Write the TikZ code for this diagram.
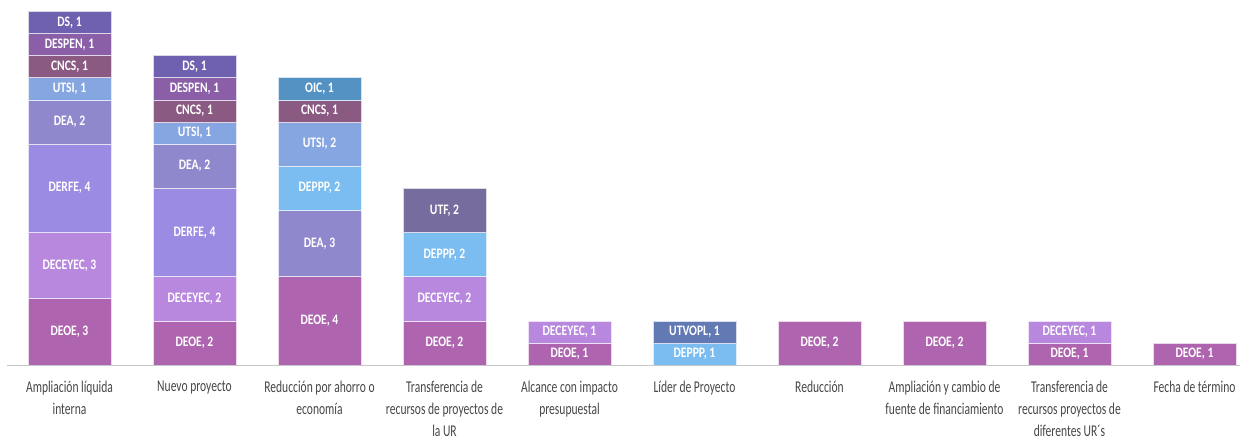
\documentclass[tikz,border=0pt]{standalone}
\usepackage{fontspec}
\newfontfamily\segfont[FakeStretch=0.8]{Carlito Bold}
\newfontfamily\catfont[FakeStretch=0.7]{Carlito}
\definecolor{cDS}{RGB}{112,96,176}
\definecolor{cDESPEN}{RGB}{138,95,168}
\definecolor{cCNCS}{RGB}{138,90,130}
\definecolor{cUTSI}{RGB}{134,166,226}
\definecolor{cDEA}{RGB}{144,136,204}
\definecolor{cDERFE}{RGB}{155,139,226}
\definecolor{cDECEYEC}{RGB}{184,135,222}
\definecolor{cDEOE}{RGB}{174,100,174}
\definecolor{cOIC}{RGB}{85,146,196}
\definecolor{cDEPPP}{RGB}{123,189,240}
\definecolor{cUTF}{RGB}{118,108,158}
\definecolor{cUTVOPL}{RGB}{98,121,180}
\definecolor{labgray}{RGB}{70,70,70}
\begin{document}
\begin{tikzpicture}[x=1pt,y=-1pt,
  seg/.style={fill=#1, draw=white!75!#1, line width=0.5pt, outer sep=0pt, inner sep=0pt,
    minimum width=83pt, text=white, font=\segfont\fontsize{14.5}{14.5}\selectfont},
  h/.style={minimum height=#1*22.1pt},
  first/.style={anchor=south west},
  up/.style={anchor=south},
  cat/.style={anchor=north, align=center, inner sep=0pt, text=labgray,
    font=\catfont\fontsize{16.5}{22}\selectfont}]
\useasboundingbox (0,0) rectangle (1245,440);
% Bar 1
\node[seg=cDEOE,h=3,first] (a1) at (28,365) {DEOE, 3};
\node[seg=cDECEYEC,h=3,up] (a2) at (a1.north) {DECEYEC, 3};
\node[seg=cDERFE,h=4,up] (a3) at (a2.north) {DERFE, 4};
\node[seg=cDEA,h=2,up] (a4) at (a3.north) {DEA, 2};
\node[seg=cUTSI,h=1,up] (a5) at (a4.north) {UTSI, 1};
\node[seg=cCNCS,h=1,up] (a6) at (a5.north) {CNCS, 1};
\node[seg=cDESPEN,h=1,up] (a7) at (a6.north) {DESPEN, 1};
\node[seg=cDS,h=1,up] (a8) at (a7.north) {DS, 1};
% Bar 2
\node[seg=cDEOE,h=2,first] (b1) at (153,365) {DEOE, 2};
\node[seg=cDECEYEC,h=2,up] (b2) at (b1.north) {DECEYEC, 2};
\node[seg=cDERFE,h=4,up] (b3) at (b2.north) {DERFE, 4};
\node[seg=cDEA,h=2,up] (b4) at (b3.north) {DEA, 2};
\node[seg=cUTSI,h=1,up] (b5) at (b4.north) {UTSI, 1};
\node[seg=cCNCS,h=1,up] (b6) at (b5.north) {CNCS, 1};
\node[seg=cDESPEN,h=1,up] (b7) at (b6.north) {DESPEN, 1};
\node[seg=cDS,h=1,up] (b8) at (b7.north) {DS, 1};
% Bar 3
\node[seg=cDEOE,h=4,first] (c1) at (278,365) {DEOE, 4};
\node[seg=cDEA,h=3,up] (c2) at (c1.north) {DEA, 3};
\node[seg=cDEPPP,h=2,up] (c3) at (c2.north) {DEPPP, 2};
\node[seg=cUTSI,h=2,up] (c4) at (c3.north) {UTSI, 2};
\node[seg=cCNCS,h=1,up] (c5) at (c4.north) {CNCS, 1};
\node[seg=cOIC,h=1,up] (c6) at (c5.north) {OIC, 1};
% Bar 4
\node[seg=cDEOE,h=2,first] (d1) at (403,365) {DEOE, 2};
\node[seg=cDECEYEC,h=2,up] (d2) at (d1.north) {DECEYEC, 2};
\node[seg=cDEPPP,h=2,up] (d3) at (d2.north) {DEPPP, 2};
\node[seg=cUTF,h=2,up] (d4) at (d3.north) {UTF, 2};
% Bar 5
\node[seg=cDEOE,h=1,first] (e1) at (528,365) {DEOE, 1};
\node[seg=cDECEYEC,h=1,up] (e2) at (e1.north) {DECEYEC, 1};
% Bar 6
\node[seg=cDEPPP,h=1,first] (f1) at (653,365) {DEPPP, 1};
\node[seg=cUTVOPL,h=1,up] (f2) at (f1.north) {UTVOPL, 1};
% Bar 7
\node[seg=cDEOE,h=2,first] (g1) at (778,365) {DEOE, 2};
% Bar 8
\node[seg=cDEOE,h=2,first] (h1) at (903,365) {DEOE, 2};
% Bar 9
\node[seg=cDEOE,h=1,first] (i1) at (1028,365) {DEOE, 1};
\node[seg=cDECEYEC,h=1,up] (i2) at (i1.north) {DECEYEC, 1};
% Bar 10
\node[seg=cDEOE,h=1,first] (j1) at (1153,365) {DEOE, 1};
% Axis
\coordinate (axL) at (7,365);
\coordinate (axR) at (1240,365);
\draw[draw=black!22, line width=1pt] (axL) -- (axR);
% Category labels
\node[cat] (l1) at (69.5,381) {Ampliación líquida\\interna};
\node[cat] (l2) at (194.5,381) {Nuevo proyecto};
\node[cat] (l3) at (319.5,381) {Reducción por ahorro o\\economía};
\node[cat] (l4) at (444.5,381) {Transferencia de\\recursos de proyectos de\\la UR};
\node[cat] (l5) at (569.5,381) {Alcance con impacto\\presupuestal};
\node[cat] (l6) at (694.5,381) {Líder de Proyecto};
\node[cat] (l7) at (819.5,381) {Reducción};
\node[cat] (l8) at (944.5,381) {Ampliación y cambio de\\fuente de financiamiento};
\node[cat] (l9) at (1069.5,381) {Transferencia de\\recursos proyectos de\\diferentes UR´s};
\node[cat] (l10) at (1194.5,381) {Fecha de término};
\end{tikzpicture}
\end{document}
